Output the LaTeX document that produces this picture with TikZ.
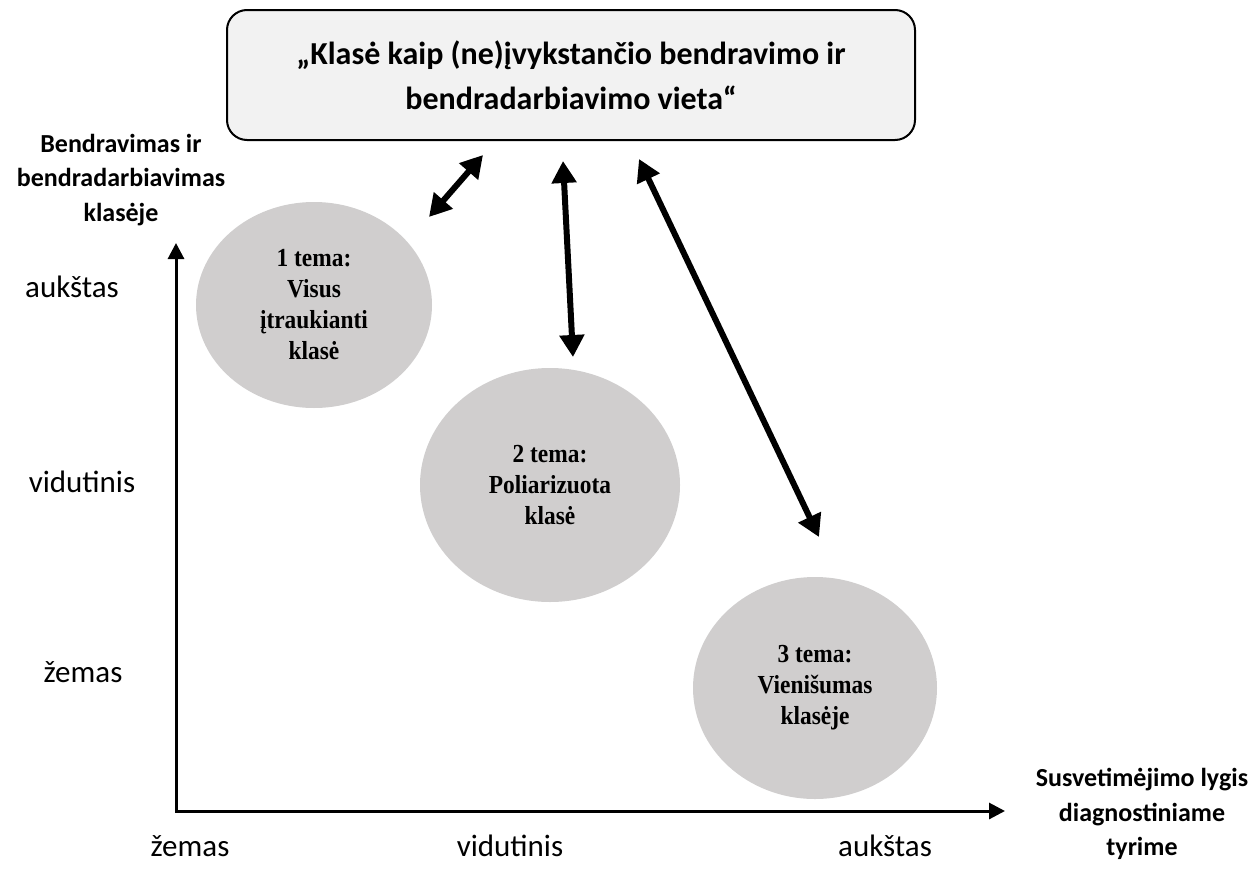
\documentclass[tikz,border=0pt]{standalone}
\usepackage{fontspec}
\setmainfont{Carlito}
\newfontfamily\themefont{Liberation Serif}[FakeStretch=0.9]
\usetikzlibrary{arrows.meta,shapes.geometric}
\definecolor{boxfill}{HTML}{F2F2F2}
\definecolor{ellfill}{HTML}{D0CECE}
\begin{document}
\begin{tikzpicture}[x=1pt,y=-1pt,
  titlebox/.style={draw, line width=2pt, fill=boxfill, rounded corners=20pt,
    minimum width=688pt, minimum height=130pt, align=center,
    font=\bfseries\fontsize{32}{45}\selectfont},
  theme/.style={ellipse, fill=ellfill, inner sep=0pt, align=center,
    font=\themefont\bfseries\fontsize{26}{31}\selectfont},
  axislabel/.style={align=center, inner sep=0pt,
    font=\bfseries\fontsize{26}{34.5}\selectfont},
  level/.style={inner sep=0pt, anchor=base, font=\fontsize{31}{37}\selectfont},
  axisline/.style={line width=3pt, line join=miter,
    {Triangle[length=16pt,width=16pt]}-{Triangle[length=16pt,width=16pt]}},
  link/.style={line width=6pt,
    {Triangle[length=22pt,width=24pt]}-{Triangle[length=22pt,width=24pt]}}]

\useasboundingbox (0,0) rectangle (1253,878);

% title box
\node[titlebox] (title) at (571,75)
  {„Klasė kaip (ne)įvykstančio bendravimo ir\\bendradarbiavimo vieta“};

% axis labels
\node[axislabel] (ylab) at (121,180) {Bendravimas ir\\bendradarbiavimas\\klasėje};
\node[axislabel] (xlab) at (1142,814) {Susvetimėjimo lygis\\diagnostiniame\\tyrime};

% axes
\coordinate (ytip) at (176,243);
\coordinate (origin) at (176,811);
\coordinate (xtip) at (1005,811);
\draw[axisline] (ytip) -- (origin) -- (xtip);

% level labels
\node[level] (yhigh) at (72,297) {aukštas};
\node[level] (ymid) at (82,492) {vidutinis};
\node[level] (ylow) at (83,682) {žemas};
\node[level] (xlow) at (190,856) {žemas};
\node[level] (xmid) at (510,856) {vidutinis};
\node[level] (xhigh) at (885,856) {aukštas};

% themes
\node[theme, minimum width=236pt, minimum height=206pt] (t1) at (314,305)
  {1 tema:\\Visus\\įtraukianti\\klasė};
\node[theme, minimum width=260pt, minimum height=234pt] (t2) at (550,485)
  {2 tema:\\Poliarizuota\\klasė};
\node[theme, minimum width=244pt, minimum height=222pt] (t3) at (815,688)
  {3 tema:\\Vienišumas\\klasėje};

% links
\coordinate (l1a) at (429,217);
\coordinate (l1b) at (483,155);
\coordinate (l2a) at (573,357);
\coordinate (l2b) at (563,161);
\coordinate (l3a) at (819,537);
\coordinate (l3b) at (639,159);
\draw[link] (l1a) -- (l1b);
\draw[link] (l2a) -- (l2b);
\draw[link] (l3a) -- (l3b);
\end{tikzpicture}
\end{document}
